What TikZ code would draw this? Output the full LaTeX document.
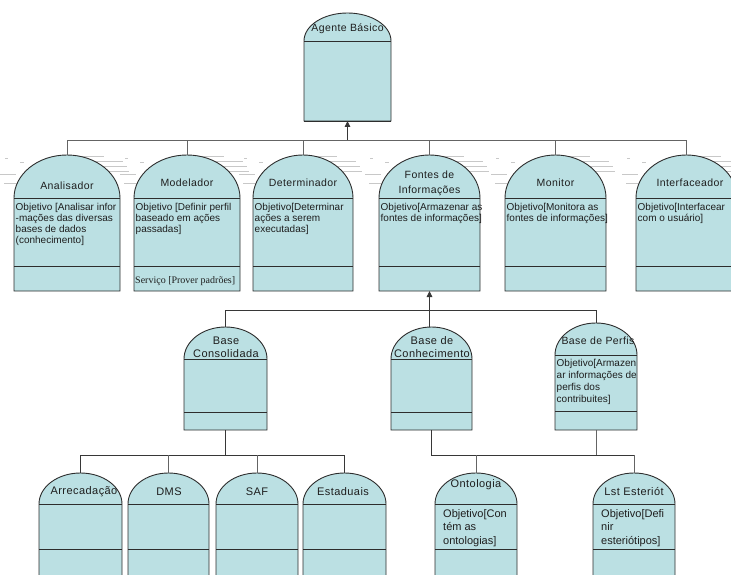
\documentclass[tikz,border=0pt]{standalone}
\usepackage{fontspec}
\setmainfont{Liberation Sans}
\newfontfamily\servicefont{Liberation Serif}
\newfontfamily\titlefont[LetterSpace=4]{Liberation Sans}
\usetikzlibrary{arrows.meta,fit}

\definecolor{clsfill}{RGB}{187,224,227}
\definecolor{clsedge}{RGB}{45,45,45}
\definecolor{wire}{RGB}{55,55,55}
\definecolor{wiresoft}{RGB}{100,100,100}
\definecolor{ghost}{RGB}{200,200,200}
\definecolor{ink}{RGB}{30,30,30}

\tikzset{
  clsline/.style={draw=clsedge, line width=0.9pt, fill=clsfill},
  divline/.style={draw=clsedge, line width=0.9pt},
  wireline/.style={draw=wire, line width=0.9pt},
  softwire/.style={draw=wiresoft, line width=0.9pt},
  uparrow/.style={draw=wire, line width=0.9pt, -{Triangle[length=6pt,width=5.5pt]}},
  ghostline/.style={draw=ghost, line width=0.8pt},
  ttl/.style={font=\titlefont\fontsize{10.5}{14.5}\selectfont, text=ink, inner sep=0pt, align=center},
  ttlbig/.style={font=\titlefont\fontsize{11}{13}\selectfont, text=ink, inner sep=0pt, align=center},
  bodytxt/.style={font=\fontsize{10}{11}\selectfont, text=ink, inner sep=0pt, align=left, anchor=north west},
  bodymid/.style={font=\fontsize{10}{11.7}\selectfont, text=ink, inner sep=0pt, align=left, anchor=north west},
  bodybig/.style={font=\fontsize{11}{13.5}\selectfont, text=ink, inner sep=0pt, align=left, anchor=north west},
  servtxt/.style={font=\servicefont\fontsize{10}{11}\selectfont, text=ink, inner sep=0pt, anchor=west}
}

% Class box: name, left, right, dome top, divider, second divider, bottom
\newcommand{\classbox}[7]{%
  \pgfmathsetmacro{\cbr}{(#3-#2)/2}%
  \pgfmathsetmacro{\cbh}{#5-#4}%
  \pgfmathsetmacro{\cbc}{(#2+#3)/2}%
  \path[clsline] (#2,#7) -- (#2,#5)
    arc[start angle=180, end angle=360, x radius=\cbr, y radius=\cbh]
    -- (#3,#7) -- cycle;
  \draw[divline] (#2,#5) -- (#3,#5) (#2,#6) -- (#3,#6);
  \coordinate (#1-apex) at (\cbc,#4);
  \coordinate (#1-base) at (\cbc,#7);
  \coordinate (#1-nw) at (#2,#5);
  \coordinate (#1-se) at (#3,#7);
  \node[fit=(#1-nw)(#1-se), inner sep=0pt] (#1) {};
}

% faint stray strokes around the domes of the middle row
\newcommand{\ghosts}[2]{%
  \draw[ghostline] (#1-9,158) -- (#1-6,158) (#1+6,162) -- (#1+10,162)
    (#2-38,156) -- (#2-16,156) (#2-34,161) -- (#2+3,161)
    (#2-22,166) -- (#2+7,166) (#2-14,171) -- (#2+9,171)
    (#1-14,174) -- (#1+2,174) (#1-10,183) -- (#1+4,183);
}

\begin{document}
\begin{tikzpicture}[x=1pt,y=-1pt]
\useasboundingbox (0,0) rectangle (731,575);

\ghosts{14}{120}
\ghosts{134}{240}
\ghosts{253}{353}
\ghosts{379}{480}
\ghosts{505}{606}
\ghosts{636}{737}

% classes
\classbox{agent}{304}{391}{13}{41}{121}{121}
\classbox{ana}{14}{120}{155}{198}{266}{291}
\classbox{mod}{134}{240}{155}{198}{266}{291}
\classbox{det}{253}{353}{155}{198}{266}{291}
\classbox{fon}{379}{480}{155}{198}{266}{291}
\classbox{mon}{505}{606}{155}{198}{266}{291}
\classbox{int}{636}{737}{155}{198}{266}{291}
\classbox{bcons}{184}{267}{327}{359}{412}{430}
\classbox{bcon}{391}{472}{327}{359}{412}{430}
\classbox{bperf}{555}{637}{323}{355}{411}{430}
\classbox{arr}{39}{122}{473}{504}{549}{600}
\classbox{dms}{128}{209}{473}{504}{549}{600}
\classbox{saf}{216}{298}{473}{504}{549}{600}
\classbox{est}{303}{386}{473}{504}{549}{600}
\classbox{ont}{435}{517}{473}{504}{549}{600}
\classbox{lst}{593}{675}{473}{504}{549}{600}

% connectors
\coordinate (bus1) at (0,140);
\coordinate (bus2) at (0,310);
\coordinate (bus3) at (0,455);
\draw[softwire] (ana-apex) -- (ana-apex |- bus1) -- (int-apex |- bus1) -- (int-apex);
\foreach \n in {mod,det,fon,mon} \draw[softwire] (\n-apex) -- (\n-apex |- bus1);
\draw[uparrow] (agent-base |- bus1) -- (agent-base);

\draw[wireline] (bcons-apex) -- (bcons-apex |- bus2) -- (bperf-apex |- bus2) -- (bperf-apex);
\draw[uparrow] (fon-base |- bcon-apex) -- (fon-base);

\draw[wireline] (bcons-base) -- (bcons-base |- bus3);
\draw[wireline] (arr-apex) -- (arr-apex |- bus3) -- (est-apex |- bus3) -- (est-apex);
\foreach \n in {dms,saf} \draw[softwire] (\n-apex) -- (\n-apex |- bus3);
\draw[wireline] (bcon-base) -- (bcon-base |- bus3) -- (lst-apex |- bus3);
\draw[softwire] (lst-apex |- bus3) -- (lst-apex);
\draw[softwire] (bperf-base) -- (bperf-base |- bus3);
\draw[softwire] (ont-apex) -- (ont-apex |- bus3);

% titles
\node[ttl] (agent-t) at (347.5,29) {Agente Básico};
\node[ttl] (ana-t) at (67,186) {Analisador};
\node[ttl] (mod-t) at (187,183) {Modelador};
\node[ttl] (det-t) at (303,183) {Determinador};
\node[ttl] (fon-t) at (429.5,183.5) {Fontes de\\Informações};
\node[ttl] (mon-t) at (555.5,183) {Monitor};
\node[ttl] (int-t) at (690,183) {Interfaceador};
\node[ttlbig] (bcons-t) at (226,347.5) {Base\\Consolidada};
\node[ttlbig] (bcon-t) at (432,347.5) {Base de\\Conhecimento};
\node[ttl] (bperf-t) at (598,341) {Base de Perfis};
\node[ttlbig] (arr-t) at (84,492) {Arrecadação};
\node[ttlbig] (dms-t) at (169,492) {DMS};
\node[ttlbig] (saf-t) at (257,492) {SAF};
\node[ttlbig] (est-t) at (343,492) {Estaduais};
\node[ttlbig] (ont-t) at (476,485) {Ontologia};
\node[ttlbig] (lst-t) at (634,492) {Lst Esteriót};

% attribute compartments
\node[bodytxt] (ana-b) at ([xshift=1.5pt,yshift=-5pt]ana-nw) {Objetivo [Analisar infor\\-mações das diversas\\bases de dados\\(conhecimento]};
\node[bodytxt] (mod-b) at ([xshift=1.5pt,yshift=-5pt]mod-nw) {Objetivo [Definir perfil\\baseado em ações\\passadas]};
\node[servtxt] (mod-s) at (135,281) {Serviço [Prover padrões]};
\node[bodytxt] (det-b) at ([xshift=1.5pt,yshift=-5pt]det-nw) {Objetivo[Determinar\\ações a serem\\executadas]};
\node[bodytxt] (fon-b) at ([xshift=1.5pt,yshift=-5pt]fon-nw) {Objetivo[Armazenar as\\fontes de informações]};
\node[bodytxt] (mon-b) at ([xshift=1.5pt,yshift=-5pt]mon-nw) {Objetivo[Monitora as\\fontes de informações]};
\node[bodytxt] (int-b) at ([xshift=1.5pt,yshift=-5pt]int-nw) {Objetivo[Interfacear\\com o usuário]};
\node[bodymid] (bperf-b) at ([xshift=1.5pt,yshift=-4.5pt]bperf-nw) {Objetivo[Armazen\\ar informações de\\perfis dos\\contribuites]};
\node[bodybig] (ont-b) at ([xshift=8pt,yshift=-5pt]ont-nw) {Objetivo[Con\\tém as\\ontologias]};
\node[bodybig] (lst-b) at ([xshift=8pt,yshift=-5pt]lst-nw) {Objetivo[Defi\\nir\\esteriótipos]};
\end{tikzpicture}
\end{document}
